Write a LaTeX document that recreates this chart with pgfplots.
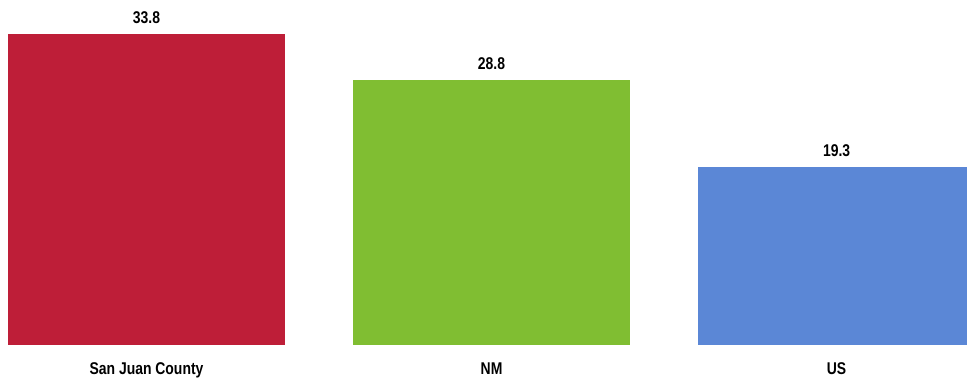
\documentclass[border=0pt]{standalone}
\usepackage{pgfplots}
\pgfplotsset{compat=1.18}
\usepackage{fontspec}
\setmainfont{Liberation Sans}[FakeStretch=0.82]
\definecolor{cred}{RGB}{190,30,56}
\definecolor{cgreen}{RGB}{128,190,50}
\definecolor{cblue}{RGB}{91,135,214}
\begin{document}
\begin{tikzpicture}[x=1bp,y=1bp]
\begin{axis}[
  scale only axis,
  width=967bp, height=345bp,
  ymin=0, ymax=37.5,
  xmin=-0.4246, xmax=2.378,
  axis line style={draw=none},
  ytick=\empty,
  xtick={0,1,2},
  xticklabels={San Juan County,NM,US},
  major tick length=0pt,
  xticklabel style={font=\fontsize{17bp}{20bp}\selectfont\bfseries, yshift=-14bp},
  ybar, bar width=0.803, bar shift=0pt,
  nodes near coords,
  nodes near coords style={font=\fontsize{17bp}{20bp}\selectfont\bfseries, yshift=7bp, /pgf/number format/assume math mode=true, /pgf/number format/fixed, /pgf/number format/precision=1, /pgf/number format/fixed zerofill},
  clip=true,
]
\addplot[fill=cred, draw=none] coordinates {(0,33.8)};
\addplot[fill=cgreen, draw=none] coordinates {(1,28.8)};
\addplot[fill=cblue, draw=none] coordinates {(2,19.3)};
\end{axis}
\pgfresetboundingbox
\useasboundingbox ([yshift=-33bp]current axis.south west) rectangle (current axis.north east);
\end{tikzpicture}
\end{document}
